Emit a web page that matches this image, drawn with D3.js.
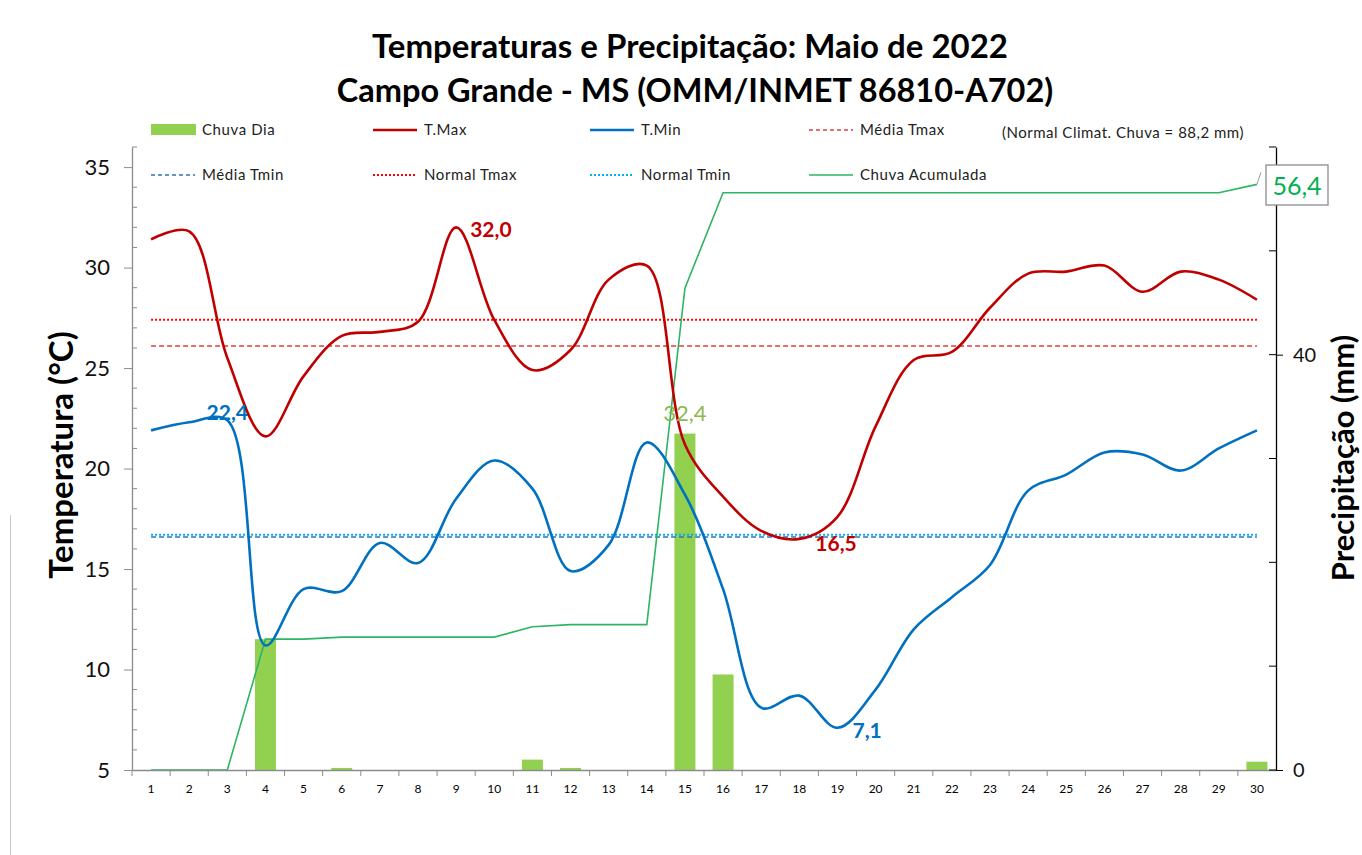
<!DOCTYPE html>
<html>
<head>
<meta charset="utf-8">
<script src="https://cdn.jsdelivr.net/npm/d3@7"></script>
<style>
  body { margin: 0; background: #fff; }
  svg { font-family: Lato, "Open Sans", sans-serif; }
</style>
</head>
<body>
<div id="chart"></div>
<script>
// Campo Grande - MS, Maio de 2022
var days = [1, 2, 3, 4, 5, 6, 7, 8, 9, 10, 11, 12, 13, 14, 15,
            16, 17, 18, 19, 20, 21, 22, 23, 24, 25, 26, 27, 28, 29, 30];

var tmax = [31.4, 31.8, 25.5, 21.6, 24.6, 26.6, 26.8, 27.3, 32.0, 27.4,
            24.9, 25.9, 29.4, 30.1, 21.2, 18.6, 16.9, 16.5, 17.6, 22.1,
            25.4, 25.8, 28.0, 29.7, 29.8, 30.1, 28.8, 29.8, 29.4, 28.4];

var tmin = [21.9, 22.3, 22.4, 11.2, 14.0, 13.9, 16.3, 15.3, 18.5, 20.4,
            19.0, 14.9, 16.2, 21.3, 18.7, 14.0, 8.1, 8.7, 7.1, 9.0,
            12.0, 13.6, 15.2, 18.9, 19.7, 20.8, 20.7, 19.9, 21.0, 21.9];

var chuvaDia = [0, 0, 0, 12.6, 0, 0.2, 0, 0, 0, 0,
                1.0, 0.2, 0, 0, 32.4, 9.2, 0, 0, 0, 0,
                0, 0, 0, 0, 0, 0, 0, 0, 0, 0.8];

var chuvaAcum = [0, 0, 0, 12.6, 12.6, 12.8, 12.8, 12.8, 12.8, 12.8,
                 13.8, 14.0, 14.0, 14.0, 46.4, 55.6, 55.6, 55.6, 55.6, 55.6,
                 55.6, 55.6, 55.6, 55.6, 55.6, 55.6, 55.6, 55.6, 55.6, 56.4];

var mediaTmax = 26.1;
var mediaTmin = 16.6;
var normalTmax = 27.4;
var normalTmin = 16.7;

var tempTicks = [5, 10, 15, 20, 25, 30, 35];
var chuvaTicks = [0, 40];

var svgWidth = 1362;
var svgHeight = 855;

var plot = { left: 132, right: 1276, top: 147, bottom: 770 };

var svg = d3.select("#chart")
  .append("svg")
  .attr("width", svgWidth)
  .attr("height", svgHeight);

// scales
var x = d3.scaleBand()
  .domain(days)
  .range([plot.left, plot.right]);

var xBar = d3.scaleBand()
  .domain(days)
  .range([plot.left, plot.right])
  .paddingInner(0.45)
  .paddingOuter(0.225);

var yTemp = d3.scaleLinear().domain([5, 36]).range([plot.bottom, plot.top]);
var yChuva = d3.scaleLinear().domain([0, 60]).range([plot.bottom, plot.top]);

var cx = function(d) { return x(d) + x.bandwidth() / 2; };

// chart border (left edge visible)
svg.append("line")
  .attr("x1", 10.5).attr("x2", 10.5)
  .attr("y1", 515).attr("y2", svgHeight)
  .attr("stroke", "#c8c8c8");

// titles
svg.append("text")
  .attr("x", 690).attr("y", 58)
  .attr("text-anchor", "middle")
  .attr("font-size", 33).attr("font-weight", "bold")
  .attr("fill", "#000")
  .text("Temperaturas e Precipitação: Maio de 2022");

svg.append("text")
  .attr("x", 695).attr("y", 102)
  .attr("text-anchor", "middle")
  .attr("font-size", 32.5).attr("font-weight", "bold")
  .attr("fill", "#000")
  .text("Campo Grande - MS (OMM/INMET 86810-A702)");

// axis titles
svg.append("text")
  .attr("transform", "translate(73, 455) rotate(-90)")
  .attr("text-anchor", "middle")
  .attr("font-size", 33).attr("font-weight", "bold")
  .text("Temperatura (°C)");

svg.append("text")
  .attr("transform", "translate(1354, 458) rotate(-90)")
  .attr("text-anchor", "middle")
  .attr("font-size", 31).attr("font-weight", "bold")
  .text("Precipitação (mm)");

// bars: chuva dia
svg.append("g")
  .selectAll("rect")
  .data(days)
  .enter()
  .append("rect")
  .attr("x", d => xBar(d))
  .attr("width", xBar.bandwidth())
  .attr("y", (d, i) => yChuva(chuvaDia[i]))
  .attr("height", (d, i) => plot.bottom - yChuva(chuvaDia[i]))
  .attr("fill", "#92D050");

// reference lines
var refLines = [
  { value: mediaTmax, color: "#E03C3C", dash: "5,3", width: 1.5 },
  { value: normalTmax, color: "#FF0000", dash: "2,2", width: 2 },
  { value: mediaTmin, color: "#2E75B6", dash: "5,3", width: 1.5 },
  { value: normalTmin, color: "#00B0F0", dash: "2,2", width: 2 }
];

refLines.forEach(function(r) {
  var line = d3.line()
    .x(d => cx(d))
    .y(() => yTemp(r.value));
  svg.append("path")
    .datum([days[0], days[days.length - 1]])
    .attr("d", line)
    .attr("fill", "none")
    .attr("stroke", r.color)
    .attr("stroke-width", r.width)
    .attr("stroke-dasharray", r.dash);
});

// accumulated rain
var acumLine = d3.line()
  .x(d => cx(d))
  .y((d, i) => yChuva(chuvaAcum[i]));

svg.append("path")
  .datum(days)
  .attr("d", acumLine)
  .attr("fill", "none")
  .attr("stroke", "#2DB563")
  .attr("stroke-width", 1.6);

// temperature lines (smoothed like the spreadsheet)
var tLine = function(values) {
  return d3.line()
    .x(d => cx(d))
    .y((d, i) => yTemp(values[i]))
    .curve(d3.curveCatmullRom.alpha(0.5));
};

svg.append("path")
  .datum(days)
  .attr("d", tLine(tmin))
  .attr("fill", "none")
  .attr("stroke", "#0070C0")
  .attr("stroke-width", 2.6);

svg.append("path")
  .datum(days)
  .attr("d", tLine(tmax))
  .attr("fill", "none")
  .attr("stroke", "#C00000")
  .attr("stroke-width", 2.6);

// axes
var xAxis = svg.append("g")
  .attr("transform", `translate(0, ${plot.bottom})`)
  .call(d3.axisBottom(x).tickSize(0).tickPadding(14));
xAxis.select(".domain").attr("stroke", "#8c8c8c").attr("stroke-width", 1.3);
xAxis.selectAll("text").attr("font-size", 12).attr("fill", "#000").attr("font-family", "Lato, sans-serif");

svg.append("g")
  .selectAll("line")
  .data(days)
  .enter()
  .append("line")
  .attr("x1", d => x(d)).attr("x2", d => x(d))
  .attr("y1", plot.bottom).attr("y2", plot.bottom + 6)
  .attr("stroke", "#8c8c8c");

var leftAxis = svg.append("g")
  .attr("transform", `translate(${plot.left}, 0)`)
  .call(d3.axisLeft(yTemp).tickValues(tempTicks).tickSizeInner(8).tickSizeOuter(0).tickPadding(14));
leftAxis.select(".domain").attr("stroke", "#8c8c8c").attr("stroke-width", 1.3);
leftAxis.selectAll("line").attr("stroke", "#8c8c8c");
leftAxis.selectAll("text").attr("font-size", 22).attr("fill", "#111").attr("font-family", "Lato, sans-serif");

var tempMinor = d3.range(5, 37).filter(v => v % 5 !== 0);
svg.append("g")
  .selectAll("line")
  .data(tempMinor)
  .enter()
  .append("line")
  .attr("x1", plot.left).attr("x2", plot.left + 5)
  .attr("y1", d => yTemp(d)).attr("y2", d => yTemp(d))
  .attr("stroke", "#8c8c8c");

var rightAxis = svg.append("g")
  .attr("transform", `translate(${plot.right}, 0)`)
  .call(d3.axisRight(yChuva).tickValues(chuvaTicks).tickSizeInner(7).tickSizeOuter(0).tickPadding(10));
rightAxis.select(".domain").attr("stroke", "#000").attr("stroke-width", 1.3);
rightAxis.selectAll("text").attr("font-size", 20).attr("fill", "#111").attr("font-family", "Lato, sans-serif");

var chuvaMinor = [0, 10, 20, 30, 40, 50, 60];
svg.append("g")
  .selectAll("line")
  .data(chuvaMinor)
  .enter()
  .append("line")
  .attr("x1", plot.right - 7).attr("x2", plot.right)
  .attr("y1", d => yChuva(d)).attr("y2", d => yChuva(d))
  .attr("stroke", "#000");

// data labels
var fmt = function(v) { return v.toFixed(1).replace(".", ","); };

svg.append("text")
  .attr("x", cx(9) + 14).attr("y", yTemp(tmax[8]) + 10)
  .attr("font-size", 21).attr("font-weight", "bold").attr("fill", "#C00000")
  .text(fmt(tmax[8]));

svg.append("text")
  .attr("x", cx(18) + 16).attr("y", yTemp(tmax[17]) + 12)
  .attr("font-size", 21).attr("font-weight", "bold").attr("fill", "#C00000")
  .text(fmt(tmax[17]));

svg.append("text")
  .attr("x", cx(3)).attr("y", yTemp(tmin[2]))
  .attr("text-anchor", "middle")
  .attr("font-size", 21).attr("font-weight", "bold").attr("fill", "#0070C0")
  .text(fmt(tmin[2]));

svg.append("text")
  .attr("x", cx(19) + 15).attr("y", yTemp(tmin[18]) + 10)
  .attr("font-size", 21).attr("font-weight", "bold").attr("fill", "#0070C0")
  .text(fmt(tmin[18]));

svg.append("text")
  .attr("x", cx(15)).attr("y", yChuva(chuvaDia[14]) - 13)
  .attr("text-anchor", "middle")
  .attr("font-size", 22).attr("fill", "#8DB84A")
  .text(fmt(chuvaDia[14]));

// accumulated total callout
var lastAcum = chuvaAcum[chuvaAcum.length - 1];
svg.append("line")
  .attr("x1", cx(30)).attr("y1", yChuva(lastAcum))
  .attr("x2", cx(30) + 4).attr("y2", yChuva(lastAcum) - 12)
  .attr("stroke", "#999");
svg.append("rect")
  .attr("x", 1266).attr("y", 165)
  .attr("width", 62).attr("height", 40)
  .attr("fill", "#fff").attr("stroke", "#8c8c8c").attr("stroke-width", 1.3);
svg.append("text")
  .attr("x", 1297).attr("y", 195)
  .attr("text-anchor", "middle")
  .attr("font-size", 25).attr("fill", "#00B050")
  .text(fmt(lastAcum));

// legend
var legendItems = [
  { label: "Chuva Dia", type: "rect", color: "#92D050" },
  { label: "T.Max", type: "line", color: "#C00000", dash: null, width: 2.6 },
  { label: "T.Min", type: "line", color: "#0070C0", dash: null, width: 2.6 },
  { label: "Média Tmax", type: "line", color: "#E03C3C", dash: "4,3", width: 1.3 },
  { label: "Média Tmin", type: "line", color: "#2E75B6", dash: "4,3", width: 1.3 },
  { label: "Normal Tmax", type: "line", color: "#FF0000", dash: "2,2", width: 2 },
  { label: "Normal Tmin", type: "line", color: "#00B0F0", dash: "2,2", width: 2 },
  { label: "Chuva Acumulada", type: "line", color: "#2DB563", dash: null, width: 1.5 }
];

var legendCols = [151, 373, 590, 809];
var legendRows = [130, 175];

var legend = svg.append("g")
  .selectAll("g")
  .data(legendItems)
  .enter()
  .append("g")
  .attr("transform", (d, i) => `translate(${legendCols[i % 4]}, ${legendRows[Math.floor(i / 4)]})`);

legend.filter(d => d.type === "rect")
  .append("rect")
  .attr("x", 0).attr("y", -6)
  .attr("width", 45).attr("height", 11)
  .attr("fill", d => d.color);

legend.filter(d => d.type === "line")
  .append("line")
  .attr("x1", 0).attr("x2", 44)
  .attr("y1", 0).attr("y2", 0)
  .attr("stroke", d => d.color)
  .attr("stroke-width", d => d.width)
  .attr("stroke-dasharray", d => d.dash);

legend.append("text")
  .attr("x", 51).attr("y", 5)
  .attr("font-size", 15).attr("letter-spacing", 0.6).attr("fill", "#222")
  .text(d => d.label);

svg.append("text")
  .attr("x", 1002).attr("y", 138)
  .attr("font-size", 15).attr("letter-spacing", 0.5).attr("fill", "#222")
  .text("(Normal Climat. Chuva = 88,2 mm)");
</script>
</body>
</html>
